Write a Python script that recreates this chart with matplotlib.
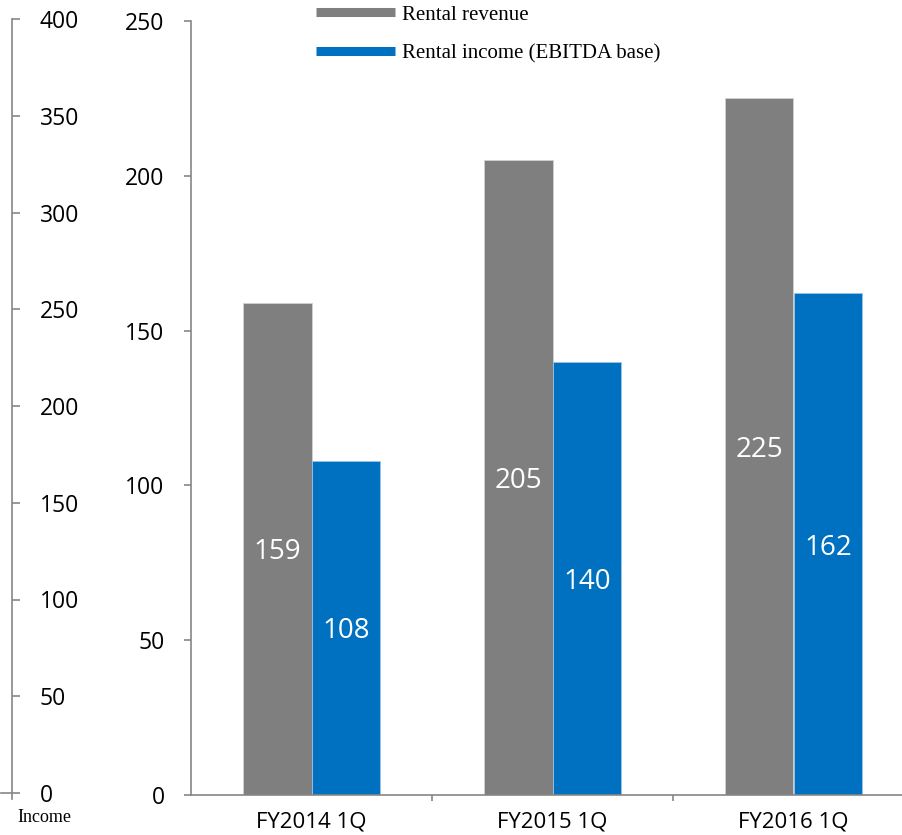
import matplotlib.pyplot as plt
from matplotlib.lines import Line2D

categories = ['FY2014 1Q', 'FY2015 1Q', 'FY2016 1Q']
rental_revenue = [159, 205, 225]
rental_income = [108, 140, 162]
series_names = ['Rental revenue', 'Rental income (EBITDA base)']
inner_ticks = [0, 50, 100, 150, 200, 250]
outer_ticks = [0, 50, 100, 150, 200, 250, 300, 350, 400]

gray = '#7f7f7f'
blue = '#0070c0'
spine_col = '#868686'
W, H = 902, 835

fig = plt.figure(figsize=(W / 100, H / 100), dpi=100)

# main axes (bars), spine at x=191, 0 at y=795, 250 at y=21
ax = fig.add_axes([191 / W, (H - 795) / H, (W - 191) / W, (795 - 21) / H])
x = list(range(len(categories)))
bw = 0.285
ax.bar([i - bw / 2 for i in x], rental_revenue, bw, color=gray,
       edgecolor='#d0d0d0', linewidth=0.6)
ax.bar([i + bw / 2 for i in x], rental_income, bw, color=blue,
       edgecolor='#9cc3e6', linewidth=0.6)
for i in x:
    ax.text(i - bw / 2, rental_revenue[i] / 2, str(rental_revenue[i]),
            ha='center', va='center_baseline', color='white', fontsize=20, family='Open Sans')
    ax.text(i + bw / 2, rental_income[i] / 2, str(rental_income[i]),
            ha='center', va='center_baseline', color='white', fontsize=20, family='Open Sans')

ax.set_xlim(-0.5, (W - 191) / 241 - 0.5)
ax.set_ylim(0, 250)
ax.set_yticks(inner_ticks)
ax.set_yticklabels([str(t) for t in inner_ticks], family='Open Sans', fontsize=16.5)
ax.set_xticks(x)
ax.set_xticklabels(categories, family='Open Sans', fontsize=16)
ax.set_xticks([0.5, 1.5], minor=True)
ax.tick_params(axis='x', which='major', length=0, pad=12)
ax.tick_params(axis='x', which='minor', length=4, color=spine_col, width=1.2)
ax.tick_params(axis='y', length=5, color=spine_col, width=1.2, pad=14)
for s in ['top', 'right']:
    ax.spines[s].set_visible(False)
for s in ['left', 'bottom']:
    ax.spines[s].set_color(spine_col)
    ax.spines[s].set_linewidth(1.2)

# outer axis: spine at x=12, 0 at y=793, 400 at y=19
ax2 = fig.add_axes([0, (H - 793) / H, 12 / W, (793 - 19) / H])
ax2.set_ylim(0, 400)
ax2.set_xticks([])
ax2.yaxis.tick_right()
ax2.set_yticks(outer_ticks)
ax2.set_yticklabels([str(t) for t in outer_ticks], family='Open Sans', fontsize=16.5)
ax2.tick_params(axis='y', direction='out', length=6, color=spine_col, width=1.2, pad=14)
for s in ['top', 'left', 'bottom']:
    ax2.spines[s].set_visible(False)
ax2.spines['right'].set_color(spine_col)
ax2.spines['right'].set_linewidth(1.2)
ax2.spines['right'].set_bounds(-3, 400)
ax2.patch.set_visible(False)
# the zero tick crosses the outer spine
ax2.plot([0.2, 1.0], [0, 0], color=spine_col, lw=1.2, clip_on=False)

fig.text(44 / W, 1 - 817 / H, 'Income', ha='center', va='center',
         family='Liberation Serif', fontsize=13)

handles = [Line2D([0], [0], color=gray, lw=6.5, solid_capstyle='butt'),
           Line2D([0], [0], color=blue, lw=6.5, solid_capstyle='butt')]
fig.legend(handles, series_names, loc='upper left',
           bbox_to_anchor=(316 / W, 1 - 5 / H), frameon=False,
           prop={'family': 'Liberation Serif', 'size': 15},
           handlelength=3.8, handletextpad=0.35, labelspacing=0.93, borderpad=0,
           borderaxespad=0)

fig.savefig('out.png', dpi=100)
